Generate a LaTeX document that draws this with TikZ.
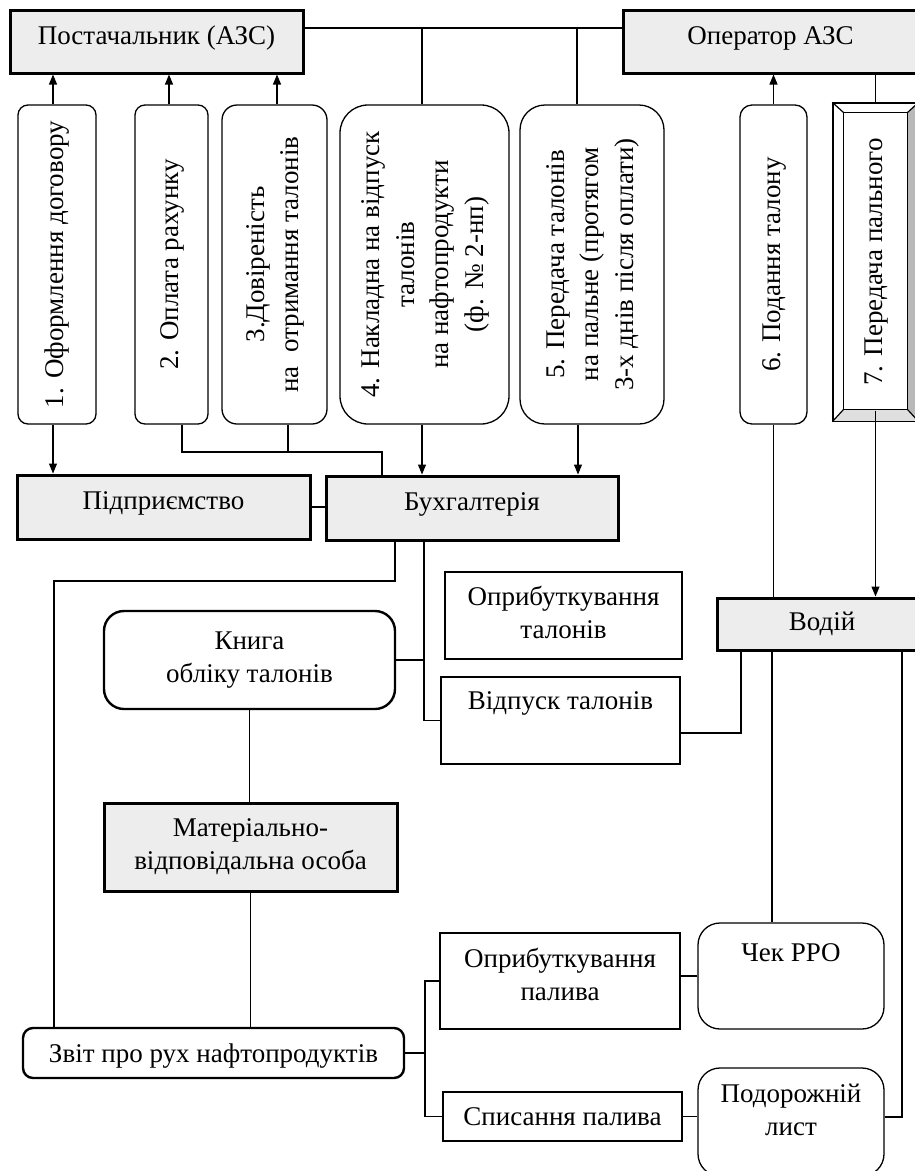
\documentclass[tikz,border=0pt]{standalone}
\usepackage{fontspec}
\setmainfont{Liberation Serif}
\usepackage{graphicx}
\usetikzlibrary{arrows.meta}
\newcommand{\vtext}[1]{\rotatebox{90}{\begin{tabular}{@{}c@{}}#1\end{tabular}}}
\renewcommand{\arraystretch}{1.05}
\tikzset{
  gbox/.style={draw,line width=3pt,fill=gray!14,inner sep=0pt},
  lifted/.style={text height=19pt,text depth=14pt},
  softbox/.style={draw,line width=1.3pt,fill=white,inner sep=0pt},
  docbox/.style={softbox,minimum height=319pt},
  plainbox/.style={draw,line width=1.3pt,inner sep=0pt},
  roundbox/.style={draw,line width=2.4pt,inner sep=0pt},
  link/.style={line width=1.1pt},
  arr/.style={line width=1.1pt,-{Triangle[length=10pt,width=8pt]}}
}
\begin{document}
\begin{tikzpicture}[x=1pt,y=-1pt,font=\fontsize{27}{33}\selectfont]
\useasboundingbox (0,0) rectangle (914,1171);
\node[gbox,lifted,minimum width=293pt,minimum height=63pt] (post) at (156.5,41.5) {Постачальник (АЗС)};
\node[gbox,lifted,minimum width=295pt,minimum height=63pt] (oper) at (770.5,41.5) {Оператор АЗС};
\node[docbox,rounded corners=10pt,minimum width=78pt] (b1) at (57,264.5) {\vtext{1. Оформлення договору}};
\node[docbox,rounded corners=10pt,minimum width=73pt] (b2) at (171.5,264.5) {\vtext{2. Оплата рахунку}};
\node[docbox,rounded corners=15pt,minimum width=105pt] (b3) at (274.5,264.5) {\vtext{3.Довіреність\\на\ \ отримання талонів}};
\node[docbox,rounded corners=28pt,minimum width=169pt] (b4) at (424.5,264.5) {\vtext{4. Накладна на відпуск\\талонів\\на нафтопродукти\\(ф. № 2-нп)}};
\node[docbox,rounded corners=25pt,minimum width=144pt] (b5) at (592,264.5) {\vtext{5. Передача талонів\\на пальне (протягом\\3-х днів після оплати)}};
\node[docbox,rounded corners=12pt,minimum width=67pt] (b6) at (773.5,264.5) {\vtext{6. Подання талону}};
\node[softbox,minimum width=85pt,minimum height=318pt] (b7) at (875.5,262) {\vtext{7. Передача пального}};
\fill[gray!25] (b7.south west) -- ([shift={(11,-12)}]b7.south west) -- ([shift={(-11,-12)}]b7.south east) -- (b7.south east) -- cycle;
\fill[gray!55] (b7.north east) -- ([shift={(-11,10)}]b7.north east) -- ([shift={(-11,-12)}]b7.south east) -- (b7.south east) -- cycle;
\draw[line width=1.2pt] ([shift={(11,10)}]b7.north west) rectangle ([shift={(-11,-12)}]b7.south east);
\draw[line width=1.2pt] (b7.north west) -- ++(11,10) (b7.north east) -- ++(-11,10)
  (b7.south west) -- ++(11,-12) (b7.south east) -- ++(-11,-12);
\draw[line width=1.3pt] (b7.north west) rectangle (b7.south east);
\node[gbox,lifted,minimum width=293pt,minimum height=64pt] (pidpr) at (163.5,507) {Підприємство};
\node[gbox,lifted,minimum width=292pt,minimum height=64pt] (buh) at (472,508) {Бухгалтерія};
\node[plainbox,minimum width=237pt,minimum height=87pt,align=center,text height=51pt,text depth=6pt] (oprt) at (563.5,615.5) {Оприбуткування\\талонів};
\node[roundbox,rounded corners=20pt,minimum width=291pt,minimum height=98pt,align=center] (knyha) at (249.5,660) {Книга\\обліку талонів};
\node[plainbox,minimum width=239pt,minimum height=87pt,text height=19pt,text depth=42pt] (vidp) at (560.5,720.5) {Відпуск талонів};
\node[gbox,minimum width=210pt,minimum height=52pt] (vodii) at (822,624) {Водій};
\node[gbox,minimum width=293pt,minimum height=88pt,align=center] (mat) at (250.5,847) {Матеріально-\\відповідальна особа};
\node[roundbox,rounded corners=10pt,minimum width=381pt,minimum height=50pt,text depth=0pt] (zvit) at (213.5,1053) {Звіт про рух нафтопродуктів};
\node[plainbox,minimum width=240pt,minimum height=96pt,align=center,text height=51pt,text depth=13pt] (oprp) at (560,981) {Оприбуткування\\палива};
\node[softbox,rounded corners=22pt,minimum width=186pt,minimum height=106pt,text height=19pt,text depth=49pt] (chek) at (791,976) {Чек РРО};
\node[plainbox,minimum width=239pt,minimum height=49pt] (spys) at (562.5,1116.5) {Списання палива};
\node[softbox,rounded corners=22pt,minimum width=186pt,minimum height=108pt,align=center,text height=51pt,text depth=25pt] (podor) at (791,1122) {Подорожній\\лист};
\draw[link] ([yshift=13.5pt]post.east) coordinate (pe) -- ([yshift=13.5pt]oper.west);
\draw[link] ([xshift=-2.5pt]b4.north) -- ([xshift=-2.5pt]b4.north |- pe);
\draw[link] ([xshift=-15pt]b5.north) -- ([xshift=-15pt]b5.north |- pe);
\draw[arr] ([xshift=-4pt]b1.north) -- ([xshift=-4pt]b1.north |- post.south);
\draw[arr] ([xshift=-2.5pt]b2.north) -- ([xshift=-2.5pt]b2.north |- post.south);
\draw[arr] ([xshift=2.5pt]b3.north) -- ([xshift=2.5pt]b3.north |- post.south);
\draw[arr] (b6.north) -- (b6.north |- oper.south);
\draw[link] (b7.north) -- (b7.north |- oper.south);
\draw[arr] ([xshift=-4pt]b1.south) -- ([xshift=-4pt]b1.south |- pidpr.north);
\coordinate (jn) at (382,452);
\draw[link] ([xshift=10.5pt]b2.south) |- (jn) -- (jn |- buh.north);
\draw[link] ([xshift=13.5pt]b3.south) -- ([xshift=13.5pt]b3.south |- jn);
\draw[arr] ([xshift=-2.5pt]b4.south) -- ([xshift=-2.5pt]b4.south |- buh.north);
\draw[arr] ([xshift=-14pt]b5.south) -- ([xshift=-14pt]b5.south |- buh.north);
\draw[link] (b6.south) -- (b6.south |- vodii.north);
\draw[arr] ([yshift=11pt]b7.south) -- (b7.south |- vodii.north);
\draw[link] (pidpr.east) -- (pidpr.east -| buh.west);
\coordinate (lft) at (54,581);
\draw[link] ([xshift=-77pt]buh.south) |- (lft) -- (lft |- zvit.north);
\coordinate (bk) at ([xshift=-48pt]buh.south);
\draw[link] (bk) |- (vidp.west);
\draw[link] (knyha.east) -- (knyha.east -| bk);
\draw[link] ([yshift=-12.5pt]vidp.east) -| ([xshift=-81pt]vodii.south);
\draw[link] ([xshift=-50pt]vodii.south) -- ([xshift=-50pt]vodii.south |- chek.north);
\draw[link] ([xshift=80pt]vodii.south) |- ([yshift=5pt]podor.east);
\draw[link] (knyha.south) -- (knyha.south |- mat.north);
\draw[link] (mat.south) -- (mat.south |- zvit.north);
\coordinate (fork) at (425,1053);
\draw[link] (zvit.east) -- (fork);
\draw[link] (oprp.west) -| (fork) |- (spys.west);
\draw[link] (chek.west) -- (chek.west -| oprp.east);
\draw[link] (spys.east) -- (spys.east -| podor.west);
\end{tikzpicture}
\end{document}
